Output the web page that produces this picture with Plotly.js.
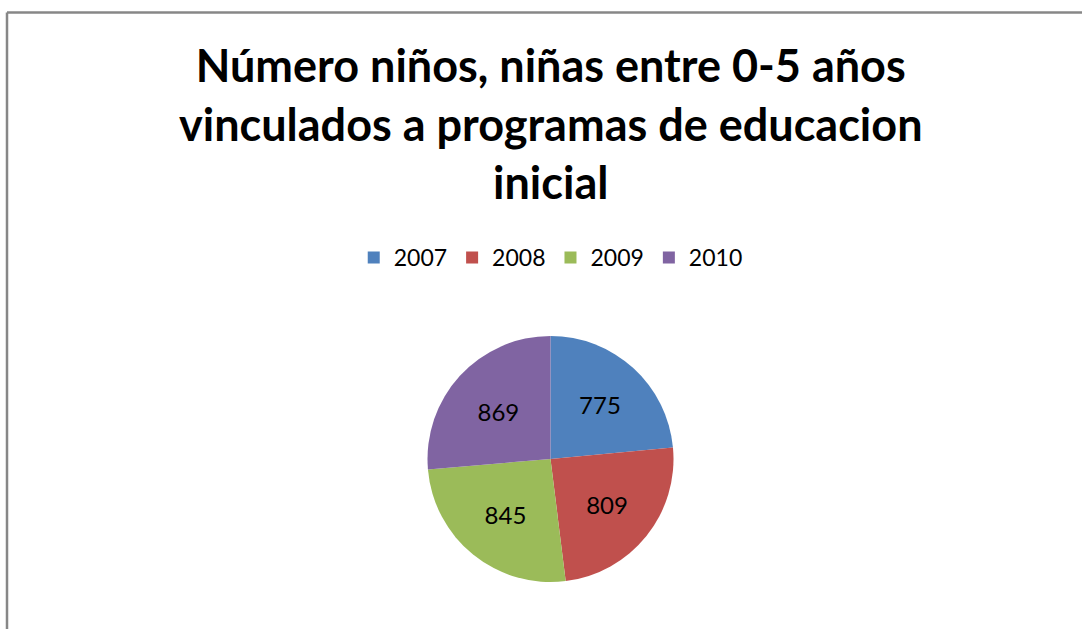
<!DOCTYPE html>
<html>
<head>
<meta charset="utf-8">
<script src="https://cdn.plot.ly/plotly-3.0.1.min.js"></script>
<style>html,body{margin:0;padding:0;background:#fff;}#chart{width:1082px;height:629px;}</style>
</head>
<body>
<div id="chart"></div>
<script>
const years = ["2007", "2008", "2009", "2010"];
const values = [775, 809, 845, 869];
const colors = ["#4F81BD", "#C0504D", "#9BBB59", "#8064A2"];
const titleText = "Número niños, niñas entre 0-5 años<br>vinculados a programas de educacion<br>inicial";

const W = 1082, H = 629;
const cx = 550.5, cy = 459, r = 123;

const trace = {
  type: "pie",
  labels: years,
  values: values,
  sort: false,
  direction: "clockwise",
  rotation: 0,
  marker: {colors: colors, line: {color: "#ffffff", width: 0}},
  textinfo: "value",
  textposition: "inside",
  insidetextorientation: "horizontal",
  textfont: {family: "Lato, 'Open Sans', sans-serif", size: 24, color: "#000000"},
  hoverinfo: "label+value",
  domain: {x: [(cx - r) / W, (cx + r) / W], y: [(H - cy - r) / H, (H - cy + r) / H]}
};

const layout = {
  width: W, height: H,
  margin: {l: 0, r: 0, t: 0, b: 0},
  paper_bgcolor: "#ffffff",
  showlegend: true,
  title: {
    text: titleText,
    font: {family: "Lato, 'Open Sans', sans-serif", size: 45, color: "#000000", weight: "bold"},
    x: 0.509, xanchor: "center",
    y: 1 - 82 / H, yanchor: "top"
  },
  legend: {
    orientation: "h",
    x: 0.509, xanchor: "center",
    y: 1 - 236 / H, yanchor: "top",
    font: {family: "Lato, 'Open Sans', sans-serif", size: 23, color: "#000000"},
    traceorder: "normal"
  },
  shapes: [
    {type: "line", xref: "paper", yref: "paper", x0: 7 / W, x1: 1, y0: 1 - 12.5 / H, y1: 1 - 12.5 / H, line: {color: "#878787", width: 2.5}},
    {type: "line", xref: "paper", yref: "paper", x0: 7 / W, x1: 7 / W, y0: 1 - 12.5 / H, y1: 0, line: {color: "#878787", width: 2.5}}
  ]
};

Plotly.newPlot("chart", [trace], layout, {displayModeBar: false, staticPlot: true});
</script>
</body>
</html>
